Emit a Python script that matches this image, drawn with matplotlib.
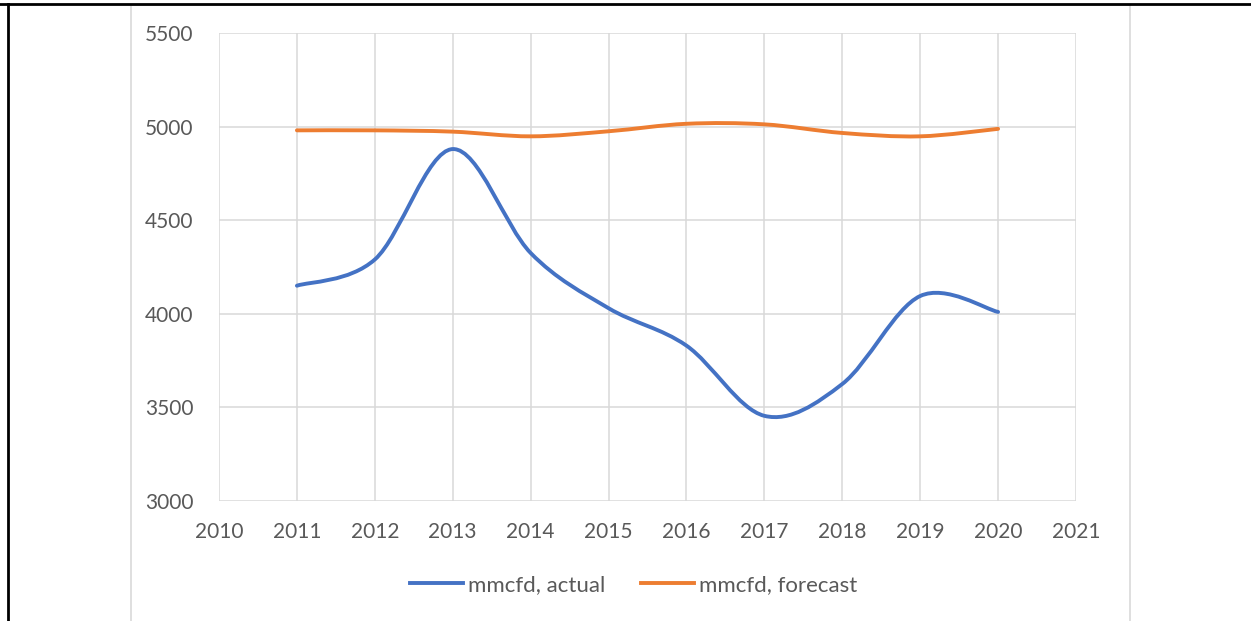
import matplotlib
matplotlib.use("Agg")
import matplotlib.pyplot as plt
from matplotlib.path import Path
from matplotlib.patches import PathPatch, Rectangle
from matplotlib.lines import Line2D
import numpy as np

years = [2011, 2012, 2013, 2014, 2015, 2016, 2017, 2018, 2019, 2020]
actual = [4150, 4290, 4880, 4325, 4030, 3830, 3455, 3625, 4095, 4010]
forecast = [4980, 4980, 4973, 4948, 4975, 5015, 5012, 4966, 4948, 4988]
series_names = ["mmcfd, actual", "mmcfd, forecast"]
series_colors = ["#4472C4", "#ED7D31"]
x_ticks = list(range(2010, 2022))
y_ticks = [3000, 3500, 4000, 4500, 5000, 5500]

plt.rcParams['font.family'] = ['Lato', 'DejaVu Sans']

W, H = 1251, 621
fig = plt.figure(figsize=(W / 100, H / 100), dpi=100)

# outer document border (black) and chart area frame (light gray)
fig.add_artist(Line2D([0, 1], [1 - 4 / H, 1 - 4 / H], color="black", lw=2.0, transform=fig.transFigure))
fig.add_artist(Line2D([8 / W, 8 / W], [0, 1 - 4 / H], color="black", lw=2.0, transform=fig.transFigure))
fig.add_artist(Rectangle((131 / W, -0.05), (1130 - 131) / W, 1.05 - 5 / H, transform=fig.transFigure,
                         fill=False, edgecolor="#d9d9d9", lw=1.2))

ax = fig.add_axes([219 / W, 1 - 501 / H, (1076 - 219) / W, (501 - 33) / H])
ax.set_xlim(2010, 2021)
ax.set_ylim(3000, 5500)
ax.set_xticks(x_ticks)
ax.set_yticks(y_ticks)
ax.grid(True, color="#d9d9d9", lw=1.1)
ax.set_axisbelow(True)
for s in ax.spines.values():
    s.set_visible(False)
ax.tick_params(length=0, labelsize=15, colors="#595959")
ax.tick_params(axis="y", pad=18.5)
ax.tick_params(axis="x", pad=15)


def smooth_path(xs, ys):
    pts = np.column_stack([xs, ys]).astype(float)
    n = len(pts)
    verts = [pts[0]]
    codes = [Path.MOVETO]
    for i in range(n - 1):
        p0 = pts[i - 1] if i > 0 else pts[i]
        p1 = pts[i]
        p2 = pts[i + 1]
        p3 = pts[i + 2] if i + 2 < n else pts[i + 1]
        c1 = p1 + (p2 - p0) / 6.0
        c2 = p2 - (p3 - p1) / 6.0
        verts += [c1, c2, p2]
        codes += [Path.CURVE4] * 3
    return Path(verts, codes)


for vals, name, col in zip([actual, forecast], series_names, series_colors):
    patch = PathPatch(smooth_path(years, vals), facecolor="none", edgecolor=col, lw=2.8,
                      capstyle="round", joinstyle="round", zorder=3)
    ax.add_patch(patch)

handles = [Line2D([], [], color=c, lw=2.8) for c in series_colors]
leg = fig.legend(handles, series_names, loc="center", bbox_to_anchor=(633.5 / W, 1 - 585 / H),
                 ncol=2, frameon=False, fontsize=16, handlelength=2.39, columnspacing=1.62,
                 handletextpad=0.22, borderpad=0, borderaxespad=0)
for t in leg.get_texts():
    t.set_color("#595959")

fig.savefig("out.png", dpi=100)
